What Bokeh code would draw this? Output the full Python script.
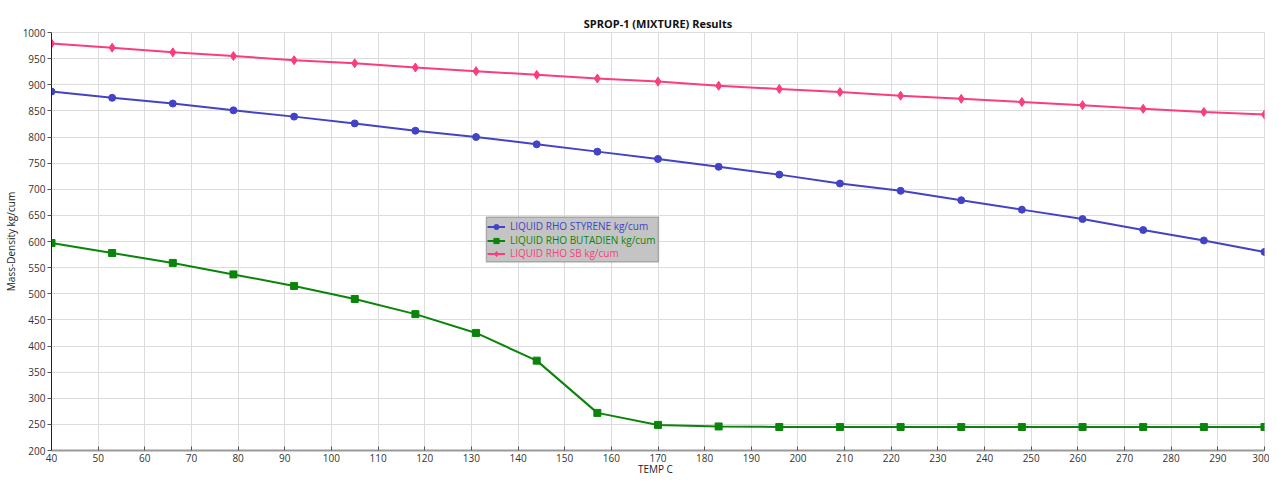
from bokeh.plotting import figure
from bokeh.models import Range1d, FixedTicker, Legend, LegendItem, BoxAnnotation
from bokeh.embed import file_html
from bokeh.resources import INLINE

temp = [40, 53, 66, 79, 92, 105, 118, 131, 144, 157, 170, 183, 196, 209, 222, 235, 248, 261, 274, 287, 300]
styrene = [887, 875, 864, 851, 839, 826, 812, 800, 786, 772, 758, 743, 728, 711, 697, 679, 661, 643, 622, 602, 580]
butadien = [597, 578, 559, 537, 515, 490, 461, 425, 372, 272, 249, 246, 245, 245, 245, 245, 245, 245, 245, 245, 245]
sb = [979, 971, 962, 955, 947, 941, 933, 926, 919, 912, 906, 898, 892, 886, 879, 873, 867, 861, 854, 848, 843]

x_ticks = list(range(40, 301, 10))
y_ticks = list(range(200, 1001, 50))

FONT = "Open Sans"
BLUE = "#4343c6"
GREEN = "#0a840a"
PINK = "#fa3e7d"

p = figure(width=1269, height=478, output_backend="svg", toolbar_location=None,
           x_range=Range1d(40, 300), y_range=Range1d(200, 1000),
           min_border_left=37, min_border_right=5, min_border_top=32, min_border_bottom=25)

p.title.text = "SPROP-1 (MIXTURE) Results"
p.title.align = "center"
p.title.text_font = FONT
p.title.text_font_size = "11px"
p.title.text_font_style = "bold"
p.title.text_color = "#111111"
p.title.standoff = 4

p.xaxis.ticker = FixedTicker(ticks=x_ticks)
p.yaxis.ticker = FixedTicker(ticks=y_ticks)
p.xaxis.axis_label = "TEMP   C"
p.yaxis.axis_label = "Mass-Density kg/cum"
for ax in (p.xaxis[0], p.yaxis[0]):
    ax.axis_label_text_font = FONT
    ax.axis_label_text_font_size = "10px"
    ax.axis_label_text_font_style = "normal"
    ax.axis_label_text_color = "#222222"
    ax.major_label_text_font = FONT
    ax.major_label_text_font_size = "10px"
    ax.major_label_text_color = "#333333"
    ax.minor_tick_line_color = None
p.xaxis.axis_label_standoff = -3
p.xaxis.major_label_standoff = 3
p.yaxis.axis_label_standoff = 2
p.yaxis.major_label_standoff = 2
p.xaxis.axis_line_color = "#999999"
p.xaxis.axis_line_width = 2
p.xaxis.major_tick_line_color = "#555555"
p.xaxis.major_tick_in = 4
p.xaxis.major_tick_out = 0
p.yaxis.axis_line_color = "#222222"
p.yaxis.major_tick_line_color = "#555555"
p.yaxis.major_tick_in = 0
p.yaxis.major_tick_out = 4

p.grid.grid_line_color = "#dcdcdc"
p.outline_line_color = "#dcdcdc"

l1 = p.line(temp, styrene, line_color=BLUE, line_width=2)
m1 = p.scatter(temp, styrene, marker="circle", size=7, fill_color=BLUE, line_color=BLUE)
l2 = p.line(temp, butadien, line_color=GREEN, line_width=2)
m2 = p.scatter(temp, butadien, marker="square", size=7, fill_color=GREEN, line_color=GREEN)
l3 = p.line(temp, sb, line_color=PINK, line_width=2)
m3 = p.scatter(temp, sb, marker="diamond", size=9, fill_color=PINK, line_color=PINK)

box = BoxAnnotation(left=133.2, right=170.1, bottom=561, top=647,
                    fill_color="#c4c4c4", fill_alpha=1.0, line_color="#444444", line_width=1.5)
p.add_layout(box)

entries = [("LIQUID RHO STYRENE kg/cum", [l1, m1], BLUE, 217),
           ("LIQUID RHO BUTADIEN kg/cum", [l2, m2], GREEN, 203),
           ("LIQUID RHO SB kg/cum", [l3, m3], PINK, 190)]
for label, rends, col, ypos in entries:
    lg = Legend(items=[LegendItem(label=label, renderers=rends)], location=(436, ypos),
                background_fill_alpha=0, border_line_alpha=0, padding=0, margin=0,
                glyph_width=18, glyph_height=13, label_height=13, label_standoff=5,
                label_text_font=FONT, label_text_font_size="10px", label_text_color=col,
                spacing=0)
    p.add_layout(lg)

open("out.html", "w").write(file_html(p, INLINE))
